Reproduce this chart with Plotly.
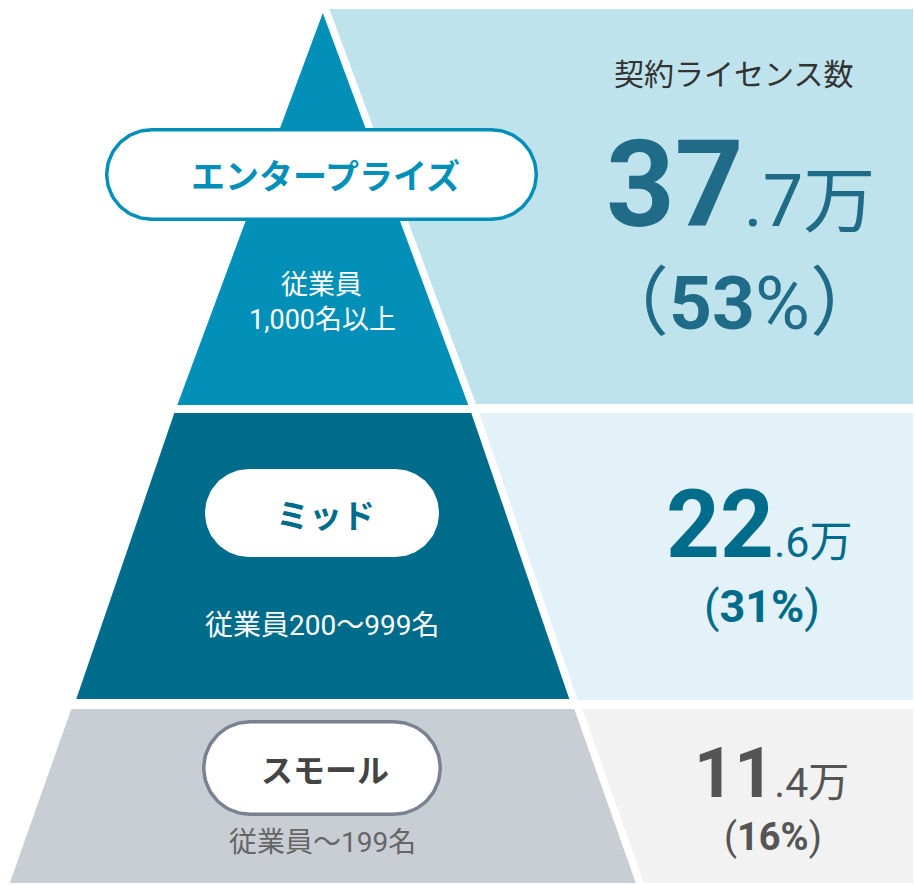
import numpy as np
import plotly.graph_objects as go

# ---------------- data ----------------
segments = ["エンタープライズ", "ミッド", "スモール"]
employee_labels = [["従業員", "1,000名以上"], ["従業員200〜999名"], ["従業員〜199名"]]
licenses_man = [37.7, 22.6, 11.4]      # 契約ライセンス数（万）
shares_pct = [53, 31, 16]              # 構成比（%）
header_label = "契約ライセンス数"
unit_label = "万"

# ---------------- styles / layout constants ----------------
W, H = 915, 885
FONT = "Roboto, 'Noto Sans CJK JP', sans-serif"
tier_colors = ["#0290B9", "#006C8B", "#C9CED5"]
panel_colors = ["#BFE3ED", "#E2F2F8", "#F2F2F2"]
number_colors = ["#1F6B88", "#006C8B", "#555555"]
sub_colors = ["#FFFFFF", "#FFFFFF", "#666666"]
pill_text_colors = ["#0290B9", "#006C8B", "#444444"]
pill_border_colors = ["#0290B9", None, "#7A8291"]

CENTER_X = 322.8
APEX_Y = 13.0
tier_y = [(APEX_Y, 405), (413, 699), (709, 883)]
tier_half_w = [(0, 145.5), (148.5, 246.5), (251.5, 313)]
panel_y = [(9, 404), (413, 700), (709, 883)]
GAP = 8
PANEL_RIGHT = 913

pill_boxes = [(105, 538, 128, 221), (205, 439, 469, 557), (202, 442, 720, 816)]
pill_text_pos = [(325, 177, 34), (325, 516, 33), (325, 771, 32)]
sub_pos = [[(321, 285), (322, 320)], [(322, 625)], [(322, 842)]]
sub_size = [27, 28, 28]

num_pos = [(740, 185), (759, 525), (771, 773)]
num_big = [120, 94, 70]
num_small = [72, 43, 41]
pct_pos = [(739, 303), (762, 606), (773, 837)]
pct_size = [75, 45, 38]
parens = [("（", "）"), ("(", ")"), ("(", ")")]


def edge(i, y, side):
    y0, y1 = tier_y[i]
    h0, h1 = tier_half_w[i]
    h = h0 + (h1 - h0) * (y - y0) / (y1 - y0)
    return CENTER_X + side * h


def stadium(x0, x1, y0, y1, n=48):
    r = (y1 - y0) / 2
    cy = (y0 + y1) / 2
    a = np.linspace(-np.pi / 2, np.pi / 2, n)
    rx = (x1 - r) + r * np.cos(a)
    ry = cy + r * np.sin(a)
    lx = (x0 + r) - r * np.cos(a[::-1])
    ly = cy + r * np.sin(a[::-1])
    xs = np.concatenate([rx, lx, rx[:1]])
    ys = np.concatenate([ry, ly, ry[:1]])
    return xs, ys


fig = go.Figure()

# pyramid tiers and right panels
for i in range(len(segments)):
    y0, y1 = tier_y[i]
    fig.add_trace(go.Scatter(
        x=[edge(i, y0, -1), edge(i, y0, 1), edge(i, y1, 1), edge(i, y1, -1), edge(i, y0, -1)],
        y=[y0, y0, y1, y1, y0],
        mode="lines", fill="toself", fillcolor=tier_colors[i],
        line=dict(width=0, color=tier_colors[i]), hoverinfo="skip", showlegend=False))
    p0, p1 = panel_y[i]
    fig.add_trace(go.Scatter(
        x=[edge(i, p0, 1) + GAP, PANEL_RIGHT, PANEL_RIGHT, edge(i, p1, 1) + GAP, edge(i, p0, 1) + GAP],
        y=[p0, p0, p1, p1, p0],
        mode="lines", fill="toself", fillcolor=panel_colors[i],
        line=dict(width=0, color=panel_colors[i]), hoverinfo="skip", showlegend=False))

# pills
for i in range(len(segments)):
    x0, x1, y0, y1 = pill_boxes[i]
    bc = pill_border_colors[i]
    bw = 3.5 if bc else 0
    xs, ys = stadium(x0 + bw / 2, x1 - bw / 2, y0 + bw / 2, y1 - bw / 2)
    fig.add_trace(go.Scatter(
        x=xs, y=ys, mode="lines", fill="toself", fillcolor="#FFFFFF",
        line=dict(width=bw, color=bc if bc else "#FFFFFF"),
        hoverinfo="skip", showlegend=False))

ann = []
for i, name in enumerate(segments):
    tx, ty, ts = pill_text_pos[i]
    ann.append(dict(x=tx, y=ty, text=f"<b>{name}</b>", showarrow=False,
                    font=dict(family=FONT, size=ts, color=pill_text_colors[i]),
                    xanchor="center", yanchor="middle"))
    for (sx, sy), line in zip(sub_pos[i], employee_labels[i]):
        ann.append(dict(x=sx, y=sy, text=line, showarrow=False,
                        font=dict(family=FONT, size=sub_size[i], color=sub_colors[i]),
                        xanchor="center", yanchor="middle"))
    v = licenses_man[i]
    ip, dp = f"{v:.1f}".split(".")
    nx, ny = num_pos[i]
    ann.append(dict(x=nx, y=ny,
                    text=f"<b>{ip}</b><span style='font-size:{num_small[i]}px'>.{dp}{unit_label}</span>",
                    showarrow=False,
                    font=dict(family=FONT, size=num_big[i], color=number_colors[i]),
                    xanchor="center", yanchor="middle"))
    px, py = pct_pos[i]
    lp, rp = parens[i]
    if i == 0:
        ptxt = f"{lp}<b>{shares_pct[i]}</b>%{rp}"
    else:
        ptxt = f"{lp}<b>{shares_pct[i]}%</b>{rp}"
    ann.append(dict(x=px, y=py, text=ptxt, showarrow=False,
                    font=dict(family=FONT, size=pct_size[i], color=number_colors[i]),
                    xanchor="center", yanchor="middle"))

ann.append(dict(x=733, y=74, text=header_label, showarrow=False,
                font=dict(family=FONT, size=30, color="#333333"),
                xanchor="center", yanchor="middle"))

fig.update_layout(
    width=W, height=H, autosize=False,
    margin=dict(l=0, r=0, t=0, b=0, pad=0),
    paper_bgcolor="#FFFFFF", plot_bgcolor="#FFFFFF",
    xaxis=dict(range=[0, W], visible=False, fixedrange=True),
    yaxis=dict(range=[H, 0], visible=False, fixedrange=True),
    annotations=ann, showlegend=False,
)

fig.write_html("out.html", config={"displayModeBar": False},
               post_script="document.body.style.margin='0';document.body.style.overflow='hidden';")
